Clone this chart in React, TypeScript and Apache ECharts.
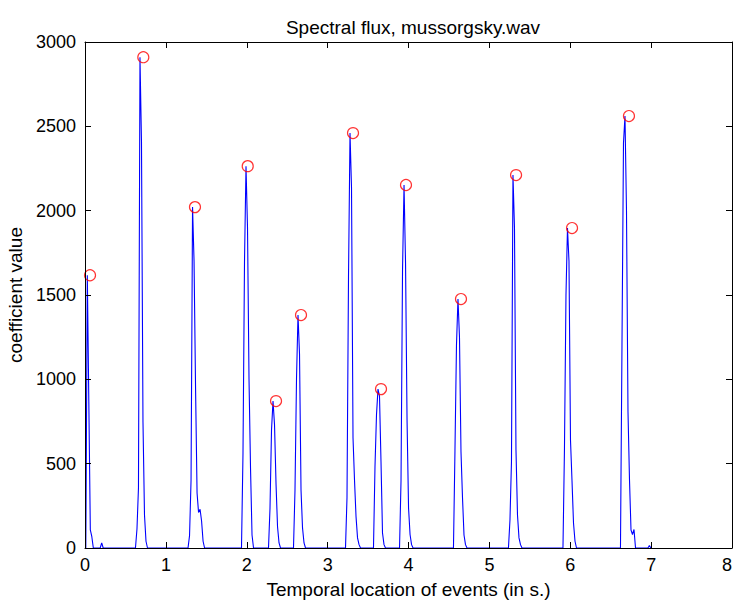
import React, { useEffect, useRef } from "react";
import * as echarts from "echarts";

// Sampling hop of the flux signal (s)
const HOP = 0.0186;

const segStarts = [0.010, 0.188, 0.624, 1.274, 1.935, 2.269, 2.578, 3.221, 3.567, 3.889, 4.556, 5.236, 5.910, 6.621, 6.960];
const segValues: number[][] = [
  [0, 1617, 867, 107, 67, 0],
  [0, 30, 0],
  [0, 113, 357, 2910, 2408, 746, 196, 40, 0],
  [0, 73, 400, 2021, 1700, 948, 326, 210, 230, 160, 40, 0],
  [0, 563, 1697, 2264, 1899, 1000, 474, 77, 0],
  [0, 237, 700, 871, 730, 380, 126, 30, 0],
  [0, 344, 1000, 1381, 1150, 344, 119, 30, 0],
  [0, 300, 1608, 2460, 2136, 652, 400, 186, 60, 20, 0],
  [0, 480, 788, 942, 900, 511, 89, 20, 0],
  [0, 400, 1650, 2152, 1689, 759, 237, 80, 20, 0],
  [0, 580, 1200, 1476, 1250, 571, 300, 77, 20, 0],
  [0, 166, 511, 2211, 1900, 581, 196, 60, 20, 0],
  [0, 593, 1500, 1897, 1700, 640, 400, 148, 40, 0],
  [0, 1200, 2400, 2561, 2000, 808, 403, 107, 80, 110, 0],
  [0, 15, 0],
];

// Detected events (red circles)
const eventTimes = [0.062, 0.721, 1.36, 2.012, 2.362, 2.671, 3.314, 3.66, 3.969, 4.649, 5.33, 6.022, 6.726];
const eventValues = [1617, 2910, 2021, 2264, 871, 1381, 2460, 942, 2152, 1476, 2211, 1897, 2561];

const xTicks = { min: 0, max: 8, interval: 1 };
const yTicks = { min: 0, max: 3000, interval: 500 };

const FONT = "'Liberation Sans', Arial, sans-serif";

export default function App() {
  const ref = useRef<HTMLDivElement>(null);
  useEffect(() => {
    if (!ref.current) return;
    const chart = echarts.init(ref.current, undefined, { renderer: "svg" });
    const flux: number[][] = [];
    segStarts.forEach((s, i) => {
      segValues[i].forEach((v, j) => flux.push([s + j * HOP, v]));
    });
    const events = eventTimes.map((t, i) => [t, eventValues[i]]);
    const axisLine = { show: true, onZero: false, lineStyle: { color: "#000", width: 1 } };
    const tick = { show: true, inside: true, length: 6, lineStyle: { color: "#000" } };
    const plain = (v: number) => String(v);
    chart.setOption({
      animation: false,
      backgroundColor: "#fff",
      title: {
        text: "Spectral flux, mussorgsky.wav",
        left: 408,
        textAlign: "center",
        top: 13,
        textStyle: { fontFamily: FONT, fontSize: 19, fontWeight: "normal", color: "#000" },
      },
      grid: { left: 85, right: 2, top: 42, bottom: 58, containLabel: false, outerBoundsMode: "none" },
      xAxis: [
        {
          type: "value",
          position: "bottom",
          ...xTicks,
          z: 10,
          axisLine,
          axisTick: tick,
          splitLine: { show: false },
          axisLabel: {
            fontFamily: FONT,
            fontSize: 18,
            color: "#000",
            margin: 8,
            formatter: plain,
            alignMaxLabel: "right",
          },
          name: "Temporal location of events (in s.)",
          nameLocation: "middle",
          nameGap: 32,
          nameTextStyle: { fontFamily: FONT, fontSize: 19, color: "#000" },
        },
        {
          type: "value",
          position: "top",
          ...xTicks,
          z: 10,
          axisLine,
          axisTick: tick,
          splitLine: { show: false },
          axisLabel: { show: false },
        },
      ],
      yAxis: [
        {
          type: "value",
          position: "left",
          ...yTicks,
          z: 10,
          axisLine,
          axisTick: tick,
          splitLine: { show: false },
          axisLabel: { fontFamily: FONT, fontSize: 18, color: "#000", margin: 9, formatter: plain },
          name: "coefficient value",
          nameLocation: "middle",
          nameGap: 58,
          nameTextStyle: { fontFamily: FONT, fontSize: 19, color: "#000" },
        },
        {
          type: "value",
          position: "right",
          ...yTicks,
          z: 10,
          axisLine,
          axisTick: tick,
          splitLine: { show: false },
          axisLabel: { show: false },
        },
      ],
      series: [
        {
          type: "line",
          data: flux,
          showSymbol: false,
          symbol: "none",
          lineStyle: { color: "#0000ff", width: 1.1 },
          z: 2,
        },
        {
          type: "scatter",
          data: events,
          symbol: "circle",
          symbolSize: 11,
          itemStyle: { color: "rgba(0,0,0,0)", borderColor: "#ff0000", borderWidth: 1.2 },
          z: 3,
        },
      ],
    });
    return () => chart.dispose();
  }, []);
  return (
    <div
      ref={ref}
      style={{ position: "fixed", left: 0, top: 0, width: 734, height: 606, background: "#fff" }}
    />
  );
}
